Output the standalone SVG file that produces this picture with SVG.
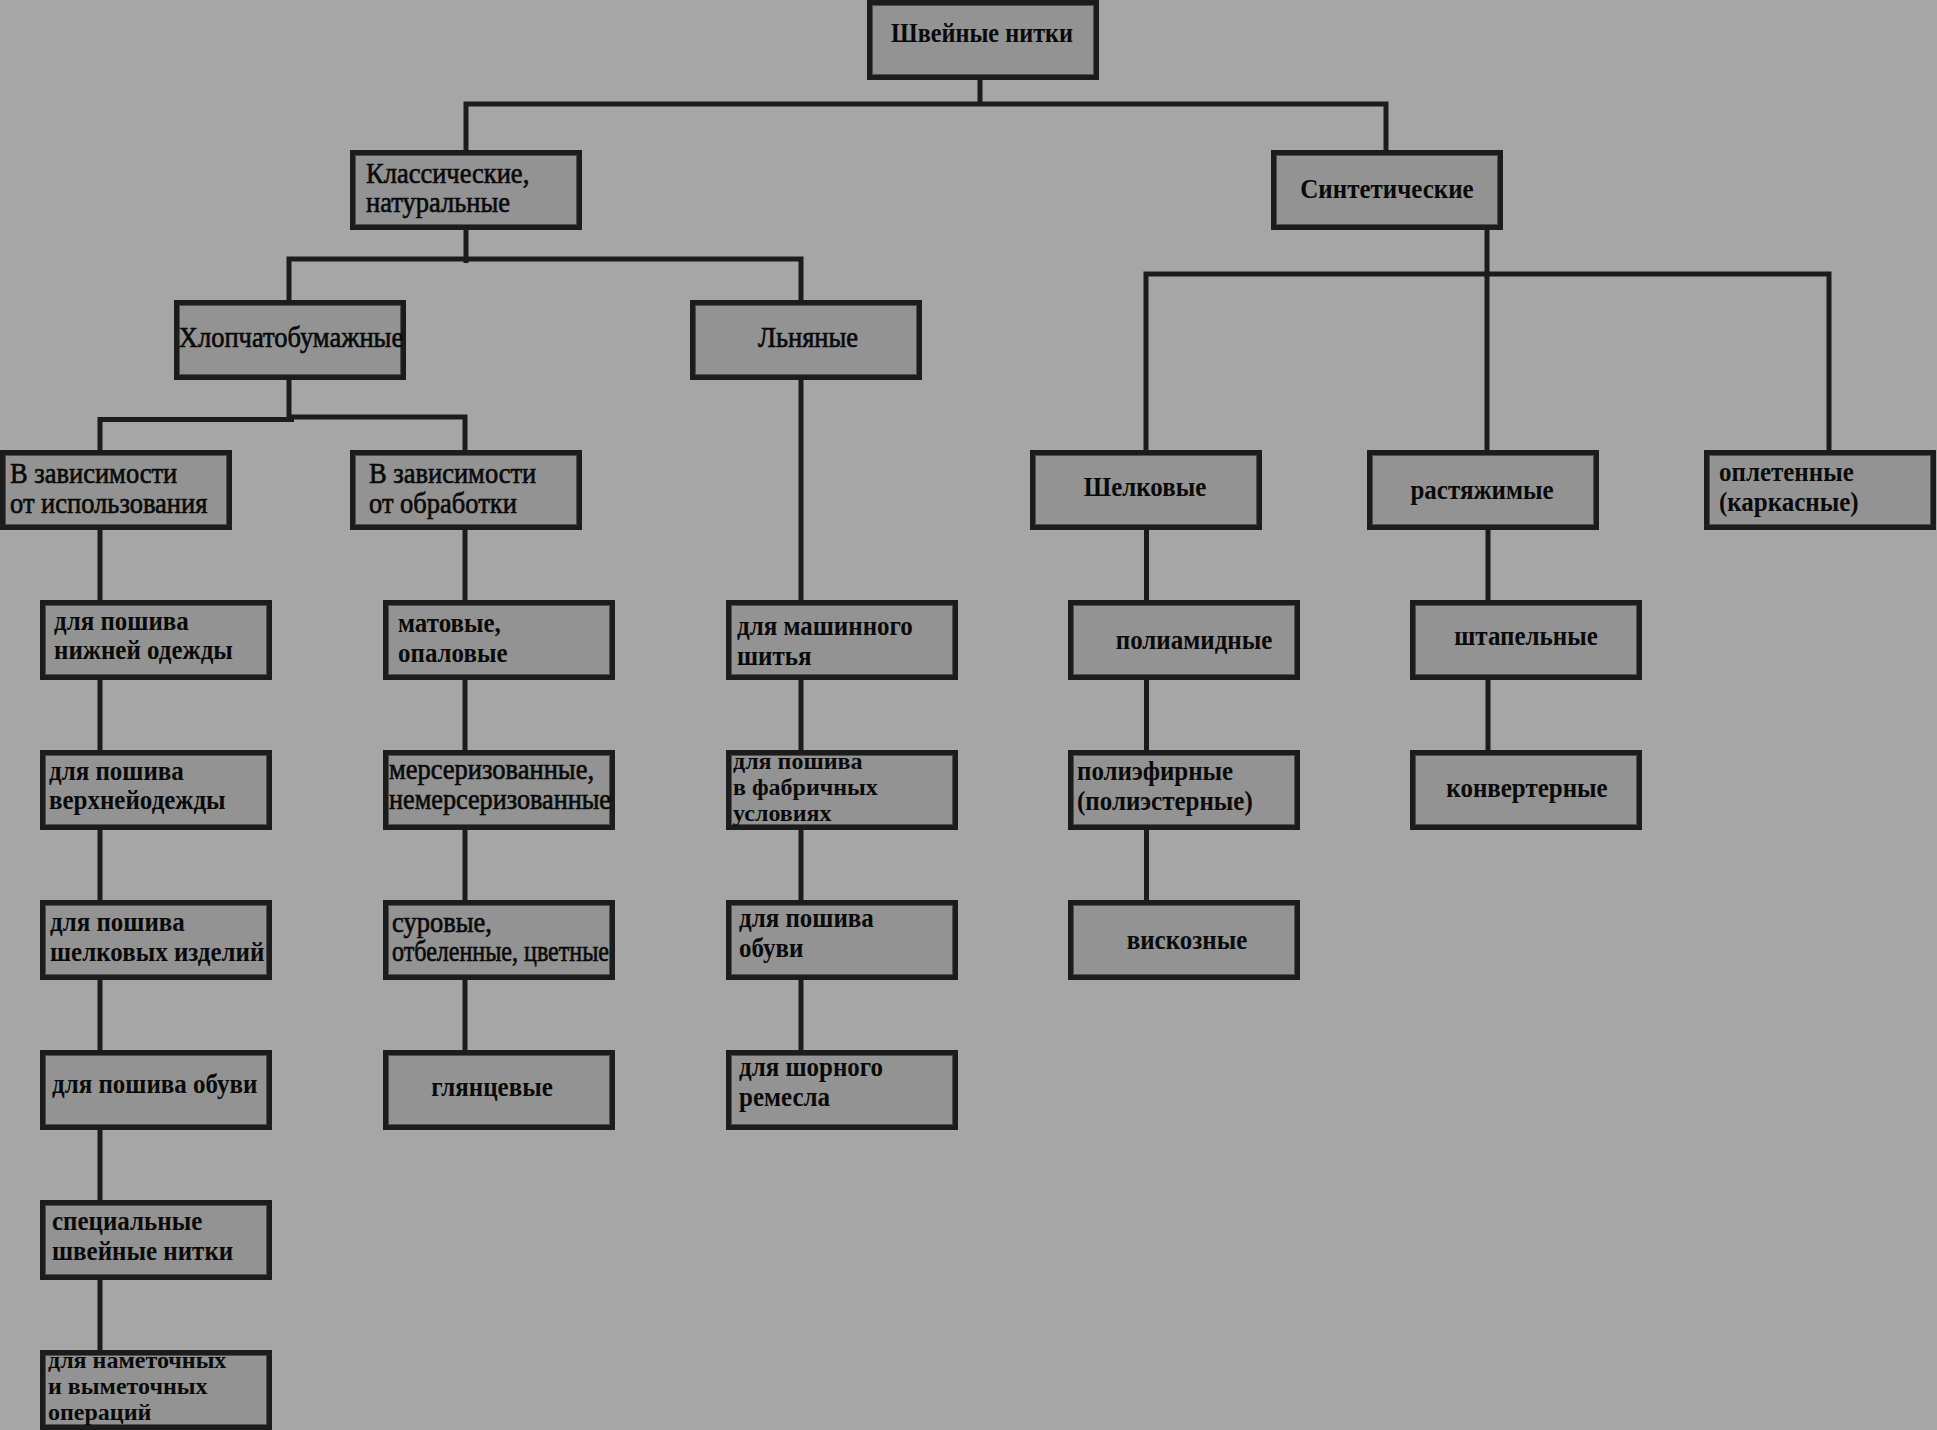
<svg xmlns="http://www.w3.org/2000/svg" width="1937" height="1430" viewBox="0 0 1937 1430">
<style>
.bg{fill:#a6a6a6}
.b{fill:#939393;stroke:#1c1c1c;stroke-width:5}
.h{fill:none;stroke:#505050;stroke-width:1}
.c{fill:none;stroke:#1c1c1c;stroke-width:5;stroke-linecap:butt}
text{font-family:"Liberation Serif","Times New Roman",serif;font-weight:bold;font-size:25px;fill:#0a0a0a}
text.r{font-weight:normal;font-size:26.5px;stroke:#0a0a0a;stroke-width:0.6px}
text.s{font-size:24px}
.m{text-anchor:middle}
</style>
<rect class="bg" x="0" y="0" width="1937" height="1430"/>
<g id="connectors">
<path class="c" d="M980 79V104M463.5 104H1388.5M466 104V150M1386 104V150"/>
<path class="c" d="M466 230V263M286.5 259H803.5M289 259V300M801 259V300"/>
<path class="c" d="M1487 230V450M1143.5 274H1831.5M1146 274V450M1829 274V450"/>
<path class="c" d="M289 380V419M97.5 419.5H294M289 417H467.5M100 419.5V450M465 417V450"/>
<path class="c" d="M100 530V600M100 680V750M100 830V900M100 980V1050M100 1130V1200M100 1280V1350"/>
<path class="c" d="M465 530V600M465 680V750M465 830V900M465 980V1050"/>
<path class="c" d="M801 380V600M801 680V750M801 830V900M801 980V1050"/>
<path class="c" d="M1146.5 530V600M1146.5 680V750M1146.5 830V900"/>
<path class="c" d="M1488 530V600M1488 680V750"/>
</g>
<g id="root"><rect class="b" x="869.5" y="2.5" width="227" height="75"/><rect class="h" x="872.5" y="5.5" width="221" height="69"/><text class="m" transform="translate(982,42) scale(1,1.1)" textLength="182" lengthAdjust="spacingAndGlyphs">Швейные нитки</text></g>
<g id="klass"><rect class="b" x="352.5" y="152.5" width="227" height="75"/><rect class="h" x="355.5" y="155.5" width="221" height="69"/><text class="r" transform="translate(366,183) scale(1,1.1)">Классические,</text><text class="r" transform="translate(366,212) scale(1,1.1)">натуральные</text></g>
<g id="sint"><rect class="b" x="1273.5" y="152.5" width="227" height="75"/><rect class="h" x="1276.5" y="155.5" width="221" height="69"/><text class="m" transform="translate(1387,198) scale(1,1.1)">Синтетические</text></g>
<g id="hlop"><rect class="b" x="176.5" y="302.5" width="227" height="75"/><rect class="h" x="179.5" y="305.5" width="221" height="69"/><text class="r m" transform="translate(291,347) scale(1,1.1)">Хлопчатобумажные</text></g>
<g id="lnyan"><rect class="b" x="692.5" y="302.5" width="227" height="75"/><rect class="h" x="695.5" y="305.5" width="221" height="69"/><text class="r m" transform="translate(808,347) scale(1,1.1)">Льняные</text></g>
<g id="ispolz"><rect class="b" x="2.5" y="452.5" width="227" height="75"/><rect class="h" x="5.5" y="455.5" width="221" height="69"/><text class="r" transform="translate(10,483) scale(1,1.1)">В зависимости</text><text class="r" transform="translate(10,513) scale(1,1.1)">от использования</text></g>
<g id="obrab"><rect class="b" x="352.5" y="452.5" width="227" height="75"/><rect class="h" x="355.5" y="455.5" width="221" height="69"/><text class="r" transform="translate(369,483) scale(1,1.1)">В зависимости</text><text class="r" transform="translate(369,513) scale(1,1.1)">от обработки</text></g>
<g id="shelk"><rect class="b" x="1032.5" y="452.5" width="227" height="75"/><rect class="h" x="1035.5" y="455.5" width="221" height="69"/><text class="m" transform="translate(1145,496) scale(1,1.1)">Шелковые</text></g>
<g id="rast"><rect class="b" x="1369.5" y="452.5" width="227" height="75"/><rect class="h" x="1372.5" y="455.5" width="221" height="69"/><text class="m" transform="translate(1482,499) scale(1,1.1)">растяжимые</text></g>
<g id="opl"><rect class="b" x="1706.5" y="452.5" width="227" height="75"/><rect class="h" x="1709.5" y="455.5" width="221" height="69"/><text transform="translate(1719,481) scale(1,1.1)">оплетенные</text><text transform="translate(1719,511) scale(1,1.1)">(каркасные)</text></g>
<g id="c1r4"><rect class="b" x="42.5" y="602.5" width="227" height="75"/><rect class="h" x="45.5" y="605.5" width="221" height="69"/><text transform="translate(54,630) scale(1,1.1)">для пошива</text><text transform="translate(54,659) scale(1,1.1)">нижней одежды</text></g>
<g id="c1r5"><rect class="b" x="42.5" y="752.5" width="227" height="75"/><rect class="h" x="45.5" y="755.5" width="221" height="69"/><text transform="translate(49,780) scale(1,1.1)">для пошива</text><text transform="translate(49,809) scale(1,1.1)">верхнейодежды</text></g>
<g id="c1r6"><rect class="b" x="42.5" y="902.5" width="227" height="75"/><rect class="h" x="45.5" y="905.5" width="221" height="69"/><text transform="translate(50,931) scale(1,1.1)">для пошива</text><text transform="translate(50,961) scale(1,1.1)">шелковых изделий</text></g>
<g id="c1r7"><rect class="b" x="42.5" y="1052.5" width="227" height="75"/><rect class="h" x="45.5" y="1055.5" width="221" height="69"/><text transform="translate(52,1093) scale(1,1.1)">для пошива обуви</text></g>
<g id="c1r8"><rect class="b" x="42.5" y="1202.5" width="227" height="75"/><rect class="h" x="45.5" y="1205.5" width="221" height="69"/><text transform="translate(52,1230) scale(1,1.1)">специальные</text><text transform="translate(52,1260) scale(1,1.1)">швейные нитки</text></g>
<g id="c1r9"><rect class="b" x="42.5" y="1352.5" width="227" height="75"/><rect class="h" x="45.5" y="1355.5" width="221" height="69"/><text class="s" x="48" y="1368">для наметочных</text><text class="s" x="48" y="1394">и выметочных</text><text class="s" x="48" y="1420">операций</text></g>
<g id="c2r4"><rect class="b" x="385.5" y="602.5" width="227" height="75"/><rect class="h" x="388.5" y="605.5" width="221" height="69"/><text transform="translate(398,632) scale(1,1.1)">матовые,</text><text transform="translate(398,662) scale(1,1.1)">опаловые</text></g>
<g id="c2r5"><rect class="b" x="385.5" y="752.5" width="227" height="75"/><rect class="h" x="388.5" y="755.5" width="221" height="69"/><text class="r" transform="translate(389,779) scale(1,1.1)">мерсеризованные,</text><text class="r" transform="translate(389,809) scale(1,1.1)" textLength="222" lengthAdjust="spacingAndGlyphs">немерсеризованные</text></g>
<g id="c2r6"><rect class="b" x="385.5" y="902.5" width="227" height="75"/><rect class="h" x="388.5" y="905.5" width="221" height="69"/><text class="r" transform="translate(392,932) scale(1,1.1)">суровые,</text><text class="r" transform="translate(392,961) scale(1,1.1)" textLength="217" lengthAdjust="spacingAndGlyphs">отбеленные, цветные</text></g>
<g id="c2r7"><rect class="b" x="385.5" y="1052.5" width="227" height="75"/><rect class="h" x="388.5" y="1055.5" width="221" height="69"/><text class="m" transform="translate(492,1096) scale(1,1.1)">глянцевые</text></g>
<g id="c3r4"><rect class="b" x="728.5" y="602.5" width="227" height="75"/><rect class="h" x="731.5" y="605.5" width="221" height="69"/><text transform="translate(737,635) scale(1,1.1)">для машинного</text><text transform="translate(737,665) scale(1,1.1)">шитья</text></g>
<g id="c3r5"><rect class="b" x="728.5" y="752.5" width="227" height="75"/><rect class="h" x="731.5" y="755.5" width="221" height="69"/><text class="s" x="733" y="769">для пошива</text><text class="s" x="733" y="795">в фабричных</text><text class="s" x="733" y="821">условиях</text></g>
<g id="c3r6"><rect class="b" x="728.5" y="902.5" width="227" height="75"/><rect class="h" x="731.5" y="905.5" width="221" height="69"/><text transform="translate(739,927) scale(1,1.1)">для пошива</text><text transform="translate(739,957) scale(1,1.1)">обуви</text></g>
<g id="c3r7"><rect class="b" x="728.5" y="1052.5" width="227" height="75"/><rect class="h" x="731.5" y="1055.5" width="221" height="69"/><text transform="translate(739,1076) scale(1,1.1)">для шорного</text><text transform="translate(739,1106) scale(1,1.1)">ремесла</text></g>
<g id="c4r4"><rect class="b" x="1070.5" y="602.5" width="227" height="75"/><rect class="h" x="1073.5" y="605.5" width="221" height="69"/><text class="m" transform="translate(1194,649) scale(1,1.1)">полиамидные</text></g>
<g id="c4r5"><rect class="b" x="1070.5" y="752.5" width="227" height="75"/><rect class="h" x="1073.5" y="755.5" width="221" height="69"/><text transform="translate(1077,780) scale(1,1.1)">полиэфирные</text><text transform="translate(1077,810) scale(1,1.1)">(полиэстерные)</text></g>
<g id="c4r6"><rect class="b" x="1070.5" y="902.5" width="227" height="75"/><rect class="h" x="1073.5" y="905.5" width="221" height="69"/><text class="m" transform="translate(1187,949) scale(1,1.1)">вискозные</text></g>
<g id="c5r4"><rect class="b" x="1412.5" y="602.5" width="227" height="75"/><rect class="h" x="1415.5" y="605.5" width="221" height="69"/><text class="m" transform="translate(1526,645) scale(1,1.1)">штапельные</text></g>
<g id="c5r5"><rect class="b" x="1412.5" y="752.5" width="227" height="75"/><rect class="h" x="1415.5" y="755.5" width="221" height="69"/><text class="m" transform="translate(1527,797) scale(1,1.1)">конвертерные</text></g>
</svg>
